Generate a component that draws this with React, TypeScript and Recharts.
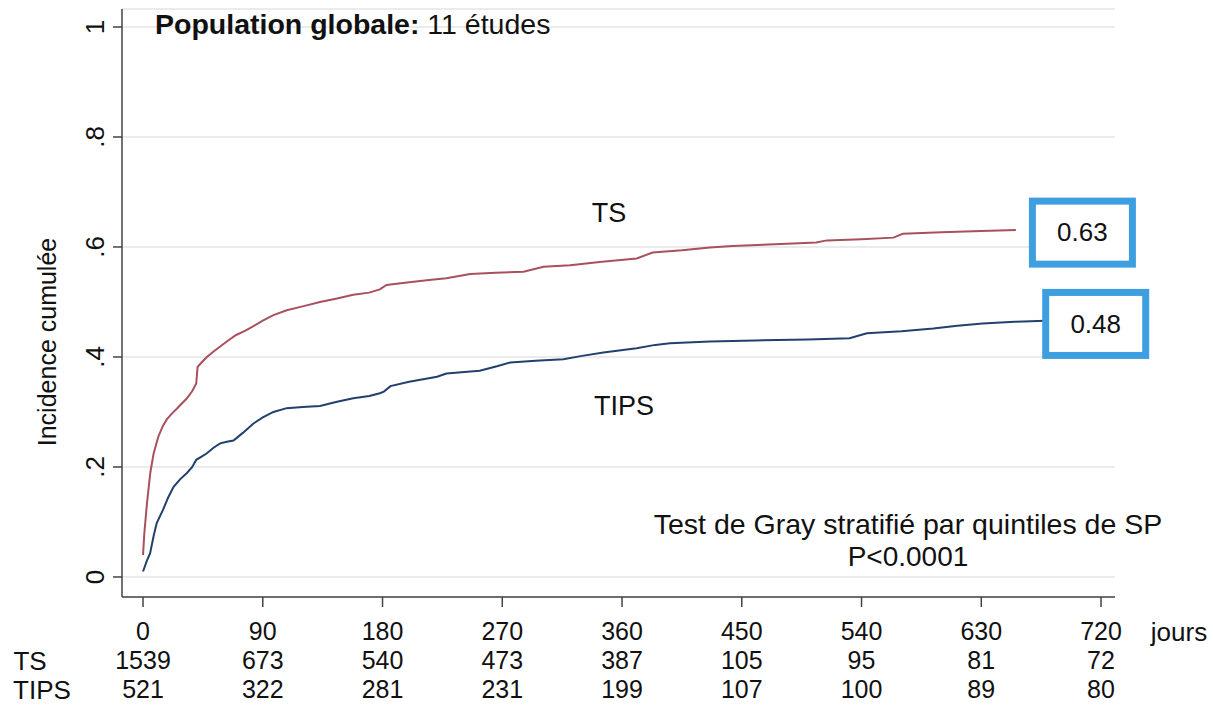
import { LineChart, Line, XAxis, YAxis, CartesianGrid, ReferenceDot } from "recharts"

// cumulative incidence, TS arm (day, value)
const tsDays = [0, 1, 3, 5.5, 8, 11.5, 15, 18, 22, 25, 29, 33, 37, 40, 41, 44, 48, 53, 58, 64, 70, 77, 83, 90, 98, 108, 120, 133, 145, 158, 170, 178, 183, 200, 215, 228, 246, 265, 286, 301, 321, 345, 371, 383, 405, 426, 443, 475, 506, 514, 540, 564, 571, 600, 630, 656]
const tsValues = [0.04, 0.08, 0.135, 0.19, 0.225, 0.255, 0.275, 0.287, 0.298, 0.305, 0.315, 0.325, 0.338, 0.352, 0.382, 0.39, 0.4, 0.41, 0.419, 0.43, 0.44, 0.448, 0.456, 0.466, 0.476, 0.485, 0.492, 0.5, 0.506, 0.513, 0.517, 0.523, 0.531, 0.536, 0.54, 0.543, 0.551, 0.553, 0.555, 0.564, 0.567, 0.573, 0.579, 0.59, 0.594, 0.599, 0.602, 0.605, 0.608, 0.612, 0.614, 0.617, 0.624, 0.627, 0.629, 0.631]

// cumulative incidence, TIPS arm
const tipsDays = [0, 3, 5.3, 8, 10.3, 15, 19, 23, 28, 33, 37, 40, 44, 48, 53, 58, 63, 68, 75, 83, 90, 98, 108, 120, 133, 145, 158, 170, 178, 181, 186, 200, 221, 228, 253, 266, 276, 295, 316, 330, 346, 371, 385, 396, 426, 460, 500, 531, 544, 570, 594, 612, 631, 655, 678]
const tipsValues = [0.01, 0.03, 0.043, 0.075, 0.098, 0.122, 0.145, 0.164, 0.178, 0.189, 0.2, 0.213, 0.219, 0.225, 0.235, 0.243, 0.246, 0.248, 0.262, 0.279, 0.29, 0.3, 0.307, 0.309, 0.311, 0.318, 0.325, 0.329, 0.334, 0.337, 0.347, 0.355, 0.364, 0.37, 0.375, 0.383, 0.39, 0.393, 0.396, 0.402, 0.408, 0.416, 0.422, 0.425, 0.428, 0.43, 0.432, 0.434, 0.443, 0.447, 0.452, 0.457, 0.461, 0.464, 0.466]

const xTicks = [0, 90, 180, 270, 360, 450, 540, 630, 720]
const yTicks = [0, 0.2, 0.4, 0.6, 0.8, 1]
const yTickLabels = ["0", ".2", ".4", ".6", ".8", "1"]

// numbers at risk
const atRiskTS = [1539, 673, 540, 473, 387, 105, 95, 81, 72]
const atRiskTIPS = [521, 322, 281, 231, 199, 107, 100, 89, 80]

const tsData = tsDays.map((d, i) => ({ day: d, ts: tsValues[i] }))
const tipsData = tipsDays.map((d, i) => ({ day: d, tips: tipsValues[i] }))

const font = "'Liberation Sans', Arial, sans-serif"
const boxBlue = "#3d9ee0"

const XTick = ({ x, y, payload, index }: any) => (
  <g fontFamily={font} fontSize={25} fill="#111" textAnchor="middle">
    <text x={x} y={y + 31}>{payload.value}</text>
    <text x={x} y={y + 60}>{atRiskTS[index]}</text>
    <text x={x} y={y + 89}>{atRiskTIPS[index]}</text>
  </g>
)

const YTick = ({ y, payload }: any) => {
  const i = yTicks.indexOf(payload.value)
  return (
    <text
      transform={`translate(95, ${y}) rotate(-90)`}
      textAnchor="middle"
      dy="0.35em"
      fontFamily={font}
      fontSize={26}
      fill="#111"
    >
      {yTickLabels[i]}
    </text>
  )
}

const valueBox = (label: string) => (props: any) => {
  const { cx, cy } = props
  return (
    <g>
      <rect x={cx - 50} y={cy - 31} width={100} height={63} fill="#fff" stroke={boxBlue} strokeWidth={7} />
      <text x={cx} y={cy} dy="0.35em" textAnchor="middle" fontFamily={font} fontSize={26} fill="#111">
        {label}
      </text>
    </g>
  )
}

export default function App() {
  return (
    <div style={{ position: "absolute", left: 0, top: 0, width: 1213, height: 706, background: "#fff" }}>
      <LineChart width={1213} height={706} margin={{ top: 9, right: 98, left: 0, bottom: 0 }}>
        <CartesianGrid vertical={false} stroke="#e4e4e4" strokeWidth={1.5} />
        <XAxis
          type="number"
          dataKey="day"
          domain={[-15.8, 730.5]}
          ticks={xTicks}
          allowDataOverflow
          height={109}
          tickSize={10}
          tick={<XTick />}
          axisLine={{ stroke: "#444", strokeWidth: 1.5 }}
          tickLine={{ stroke: "#444", strokeWidth: 1.5 }}
        />
        <YAxis
          type="number"
          domain={[-0.0364, 1.0327]}
          ticks={yTicks}
          allowDataOverflow
          width={122}
          tickSize={9}
          tick={<YTick />}
          axisLine={{ stroke: "#444", strokeWidth: 1.5 }}
          tickLine={{ stroke: "#444", strokeWidth: 1.5 }}
        />
        <Line data={tsData} dataKey="ts" type="linear" stroke="#a8505c" strokeWidth={2} dot={false} isAnimationActive={false} />
        <Line data={tipsData} dataKey="tips" type="linear" stroke="#22406e" strokeWidth={2} dot={false} isAnimationActive={false} />
        <ReferenceDot x={706} y={0.627} r={0} shape={valueBox("0.63")} />
        <ReferenceDot x={716} y={0.461} r={0} shape={valueBox("0.48")} />
      </LineChart>
      <svg width={1213} height={706} style={{ position: "absolute", left: 0, top: 0, pointerEvents: "none" }}>
        <g fontFamily={font} fill="#111">
          <text x={155} y={34} fontSize={28.5}>
            <tspan fontWeight="bold">Population globale:</tspan> 11 études
          </text>
          <text transform="translate(47, 342) rotate(-90)" textAnchor="middle" dy="0.35em" fontSize={25}>
            Incidence cumulée
          </text>
          <text x={609} y={222} textAnchor="middle" fontSize={27}>TS</text>
          <text x={624} y={415} textAnchor="middle" fontSize={27}>TIPS</text>
          <text x={908} y={534} textAnchor="middle" fontSize={28.5}>Test de Gray stratifié par quintiles de SP</text>
          <text x={908} y={566} textAnchor="middle" fontSize={28}>P&lt;0.0001</text>
          <text x={1179} y={641} textAnchor="middle" fontSize={26}>jours</text>
          <text x={30} y={670} textAnchor="middle" fontSize={26}>TS</text>
          <text x={42} y={699} textAnchor="middle" fontSize={26}>TIPS</text>
        </g>
      </svg>
    </div>
  )
}
